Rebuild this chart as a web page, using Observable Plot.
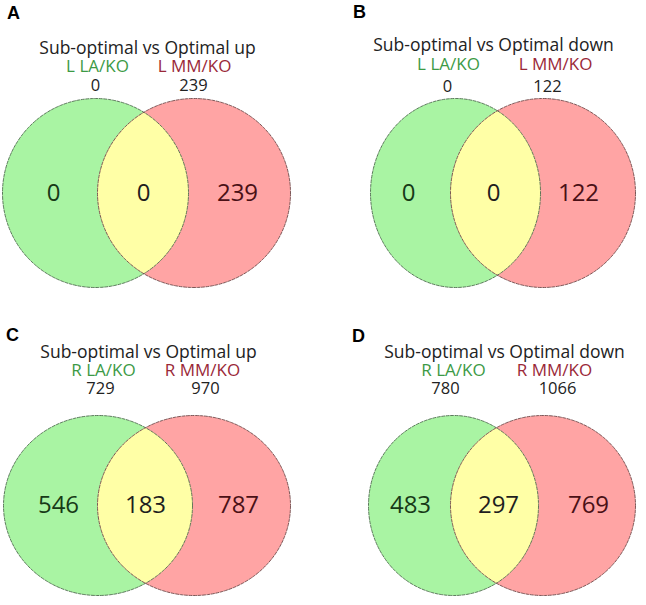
<!DOCTYPE html>
<html>
<head>
<meta charset="utf-8">
<script src="https://cdn.jsdelivr.net/npm/d3@7"></script>
<script src="https://cdn.jsdelivr.net/npm/@observablehq/plot@0.6"></script>
<style>
  html, body { margin: 0; padding: 0; background: #fff; }
  #chart { width: 646px; height: 605px; }
</style>
</head>
<body>
<div id="chart"></div>
<script>
// ---- Data ----
const panels = ["A", "B", "C", "D"];
const titles = ["Sub-optimal vs Optimal up", "Sub-optimal vs Optimal down", "Sub-optimal vs Optimal up", "Sub-optimal vs Optimal down"];
const leftSets = ["L LA/KO", "L LA/KO", "R LA/KO", "R LA/KO"];
const rightSets = ["L MM/KO", "L MM/KO", "R MM/KO", "R MM/KO"];
const leftTotals = [0, 0, 729, 780];
const rightTotals = [239, 122, 970, 1066];
const leftOnly = [0, 0, 546, 483];
const overlap = [0, 0, 183, 297];
const rightOnly = [239, 122, 787, 769];

// ---- Layout (pixel positions of each panel's elements) ----
const layout = [
  {L: {cx: 95, cy: 192.5, rx: 93, ry: 94.5}, R: {cx: 193.5, cy: 192.5, rx: 96.5, ry: 94.5},
   letter: [13, 13], title: [147, 48], labY: 66, labX: [97, 194], numY: 85, numX: [95, 193], innerY: 193, innerX: [53, 143, 237]},
  {L: {cx: 455, cy: 192.5, rx: 85, ry: 94.5}, R: {cx: 542.5, cy: 192.5, rx: 92.5, ry: 94.5},
   letter: [359, 12], title: [493, 45], labY: 64, labX: [448, 555], numY: 86, numX: [447, 547], innerY: 193, innerX: [408, 493, 578]},
  {L: {cx: 97.5, cy: 505, rx: 94.5, ry: 90}, R: {cx: 193.5, cy: 505, rx: 96.5, ry: 90},
   letter: [12, 335], title: [148, 352], labY: 370, labX: [103, 202], numY: 388, numX: [100, 205], innerY: 505, innerX: [58, 145, 238]},
  {L: {cx: 453, cy: 505, rx: 85, ry: 90}, R: {cx: 542.5, cy: 505, rx: 92.5, ry: 90},
   letter: [358, 336], title: [504, 352], labY: 370, labX: [453, 554], numY: 388, numX: [445, 557], innerY: 505, innerX: [410, 498, 588]}
];

const colors = {
  green: "#a9f4a3", pink: "#ffa4a4", yellow: "#ffffa6",
  greenText: "#3c9a45", redText: "#9a2838",
  greenNum: "#173a17", redNum: "#4a1016", midNum: "#1e1e1e",
  outlineL: "#4f6b4f", outlineR: "#6e4a4a"
};

// ---- Geometry helpers ----
const N = 360;
function ellipse(e, id) {
  return d3.range(N).map(i => {
    const t = (i / N) * 2 * Math.PI;
    return {id, x: e.cx + e.rx * Math.cos(t), y: e.cy + e.ry * Math.sin(t)};
  });
}
function inside(p, e) {
  const dx = (p.x - e.cx) / e.rx, dy = (p.y - e.cy) / e.ry;
  return dx * dx + dy * dy <= 1;
}
function lens(L, R, id) {
  const pts = ellipse(L, id).filter(p => inside(p, R)).concat(ellipse(R, id).filter(p => inside(p, L)));
  const mx = d3.mean(pts, p => p.x), my = d3.mean(pts, p => p.y);
  return pts.sort((a, b) => Math.atan2(a.y - my, a.x - mx) - Math.atan2(b.y - my, b.x - mx));
}

const leftEllipses = layout.flatMap((l, i) => ellipse(l.L, "L" + i));
const rightEllipses = layout.flatMap((l, i) => ellipse(l.R, "R" + i));
const lenses = layout.flatMap((l, i) => lens(l.L, l.R, "X" + i));

// ---- Text tables built from the data arrays ----
const letterRows = panels.map((p, i) => ({t: p, x: layout[i].letter[0], y: layout[i].letter[1]}));
const titleRows = titles.map((t, i) => ({t, x: layout[i].title[0], y: layout[i].title[1]}));
const leftLabRows = leftSets.map((t, i) => ({t, x: layout[i].labX[0], y: layout[i].labY}));
const rightLabRows = rightSets.map((t, i) => ({t, x: layout[i].labX[1], y: layout[i].labY}));
const totalRows = panels.flatMap((p, i) => [
  {t: String(leftTotals[i]), x: layout[i].numX[0], y: layout[i].numY},
  {t: String(rightTotals[i]), x: layout[i].numX[1], y: layout[i].numY}
]);
const leftInner = leftOnly.map((v, i) => ({t: String(v), x: layout[i].innerX[0], y: layout[i].innerY}));
const midInner = overlap.map((v, i) => ({t: String(v), x: layout[i].innerX[1], y: layout[i].innerY}));
const rightInner = rightOnly.map((v, i) => ({t: String(v), x: layout[i].innerX[2], y: layout[i].innerY}));

const font = "'Open Sans', 'DejaVu Sans', sans-serif";

const chart = Plot.plot({
  width: 646,
  height: 605,
  margin: 0,
  x: {domain: [0, 646], range: [0, 646], axis: null},
  y: {domain: [0, 605], range: [0, 605], axis: null},
  style: {background: "#fff", overflow: "visible"},
  marks: [
    Plot.line(leftEllipses, {x: "x", y: "y", z: "id", curve: "linear-closed", fill: colors.green, stroke: "none"}),
    Plot.line(rightEllipses, {x: "x", y: "y", z: "id", curve: "linear-closed", fill: colors.pink, stroke: "none"}),
    Plot.line(lenses, {x: "x", y: "y", z: "id", curve: "linear-closed", fill: colors.yellow, stroke: "none"}),
    Plot.line(leftEllipses, {x: "x", y: "y", z: "id", curve: "linear-closed", stroke: colors.outlineL, strokeWidth: 1, strokeDasharray: "3,1.5", strokeOpacity: 0.9}),
    Plot.line(rightEllipses, {x: "x", y: "y", z: "id", curve: "linear-closed", stroke: colors.outlineR, strokeWidth: 1, strokeDasharray: "3,1.5", strokeOpacity: 0.9}),
    Plot.text(letterRows, {x: "x", y: "y", text: "t", fontSize: 18, fontWeight: "bold", fontFamily: "'Liberation Sans', Arial, sans-serif", fill: "#000"}),
    Plot.text(titleRows, {x: "x", y: "y", text: "t", fontSize: 17.5, fontFamily: font, fill: "#222"}),
    Plot.text(leftLabRows, {x: "x", y: "y", text: "t", fontSize: 17, fontFamily: font, fill: colors.greenText}),
    Plot.text(rightLabRows, {x: "x", y: "y", text: "t", fontSize: 17, fontFamily: font, fill: colors.redText}),
    Plot.text(totalRows, {x: "x", y: "y", text: "t", fontSize: 16.5, fontFamily: font, fill: "#222"}),
    Plot.text(leftInner, {x: "x", y: "y", text: "t", fontSize: 24, fontFamily: font, fill: colors.greenNum}),
    Plot.text(midInner, {x: "x", y: "y", text: "t", fontSize: 24, fontFamily: font, fill: colors.midNum}),
    Plot.text(rightInner, {x: "x", y: "y", text: "t", fontSize: 24, fontFamily: font, fill: colors.redNum})
  ]
});
document.getElementById("chart").appendChild(chart);
</script>
</body>
</html>
